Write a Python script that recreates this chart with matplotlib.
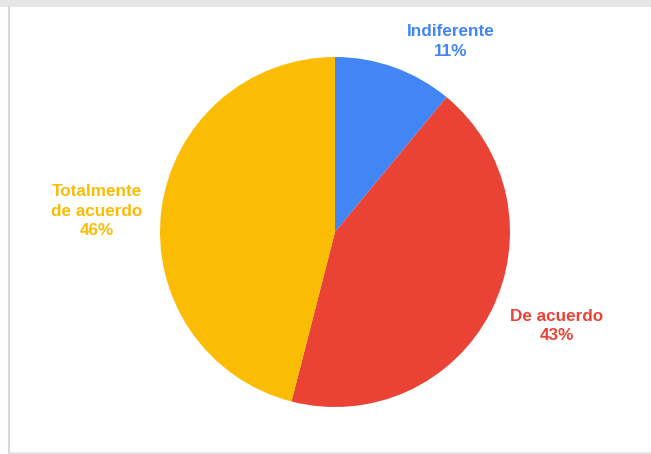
import matplotlib
matplotlib.use("Agg")
import matplotlib.pyplot as plt
from matplotlib.patches import Rectangle

labels = ["Indiferente", "De acuerdo", "Totalmente\nde acuerdo"]
values = [11, 43, 46]
colors = ["#4285F4", "#EA4335", "#FBBC04"]

W, H = 651, 454
fig = plt.figure(figsize=(W / 100, H / 100), dpi=100)
ax = fig.add_axes([0, 0, 1, 1])

# frame around the chart area
ax.add_patch(Rectangle((0, H - 7), W, 7, color="#e6e6e6", lw=0))
ax.plot([8.5, 8.5], [0, H - 7], color="#d6d6d6", lw=1.5)
ax.plot([8.5, W], [1.5, 1.5], color="#e2e2e2", lw=1.2)

cx, cy, r = 335, H - 232, 175
ax.pie(values, colors=colors, startangle=90, counterclock=False,
       center=(cx, cy), radius=r, wedgeprops=dict(linewidth=0),
       frame=True)
ax.set_xlim(0, W)
ax.set_ylim(0, H)
ax.set_aspect("equal")
ax.axis("off")

font = dict(family=["Liberation Sans", "DejaVu Sans"], fontsize=12.3,
            fontweight="bold", ha="center", va="center", linespacing=1.4)
label_pos = [(451, H - 41.5), (557, H - 326), (97, H - 211)]
for lab, val, col, (x, y) in zip(labels, values, colors, label_pos):
    ax.text(x, y, f"{lab}\n{val}%", color=col, **font)

fig.savefig("out.png", dpi=100)
